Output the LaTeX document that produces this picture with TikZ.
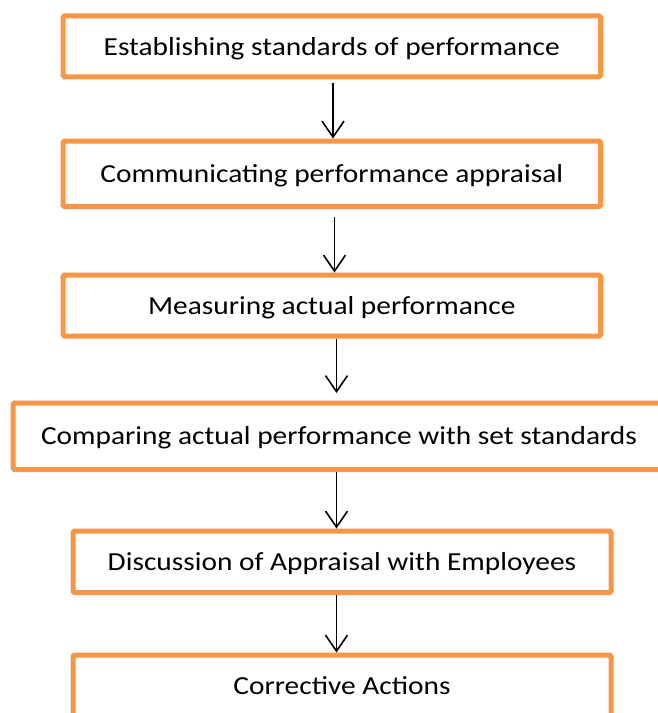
\documentclass[tikz,border=0pt]{standalone}
\usepackage{fontspec}
\setmainfont{Carlito}[FakeStretch=1.13]
\usetikzlibrary{arrows.meta}
\definecolor{boxorange}{RGB}{247,150,70}
\tikzset{
  stepbox/.style={draw=boxorange, line width=5pt, fill=white, rounded corners=1.5pt,
    inner sep=0pt, text height=20pt, text depth=2.6pt,
    font=\fontsize{26}{31}\selectfont},
  flowarrow/.style={draw=black, line width=1.8pt,
    -{Straight Barb[length=16pt, width=22pt, line width=1.6pt]}}
}
\begin{document}
\begin{tikzpicture}[x=1pt, y=-1pt]
  \useasboundingbox (0,0) rectangle (658,713);
  \clip (0,0) rectangle (658,713);
  \fill[white] (0,0) rectangle (658,713);

  % the six stages, top to bottom
  \node[stepbox, minimum width=537.5pt, minimum height=61pt]   (b1) at (331.75,46.3)  {Establishing standards of performance};
  \node[stepbox, minimum width=537.5pt, minimum height=65.5pt] (b2) at (331.75,173.75) {Communicating performance appraisal};
  \node[stepbox, minimum width=537.5pt, minimum height=61pt]   (b3) at (331.75,305.5) {Measuring actual performance};
  \node[stepbox, minimum width=652pt,   minimum height=66.5pt] (b4) at (339,436.25)   {Comparing actual performance with set standards};
  \node[stepbox, minimum width=538pt,   minimum height=61.5pt] (b5) at (342,561.75)   {Discussion of Appraisal with Employees};
  \node[stepbox, minimum width=538pt,   minimum height=62pt]   (b6) at (342,686)      {Corrective Actions};

  % horizontal positions of the connectors
  \coordinate (c1) at (333,0);
  \coordinate (c2) at (334.5,0);
  \coordinate (c3) at (336.5,0);
  \coordinate (c4) at (336.5,0);
  \coordinate (c5) at (336.5,0);

  \draw[flowarrow] ([yshift=-4pt]b1.south -| c1) -- (b2.north -| c1);
  \draw[flowarrow] ([yshift=-8pt]b2.south -| c2) -- (b3.north -| c2);
  \draw[flowarrow] (b3.south -| c3) -- ([yshift=7.5pt]b4.north -| c3);
  \draw[flowarrow] (b4.south -| c4) -- (b5.north -| c4);
  \draw[flowarrow] (b5.south -| c5) -- (b6.north -| c5);
\end{tikzpicture}
\end{document}
